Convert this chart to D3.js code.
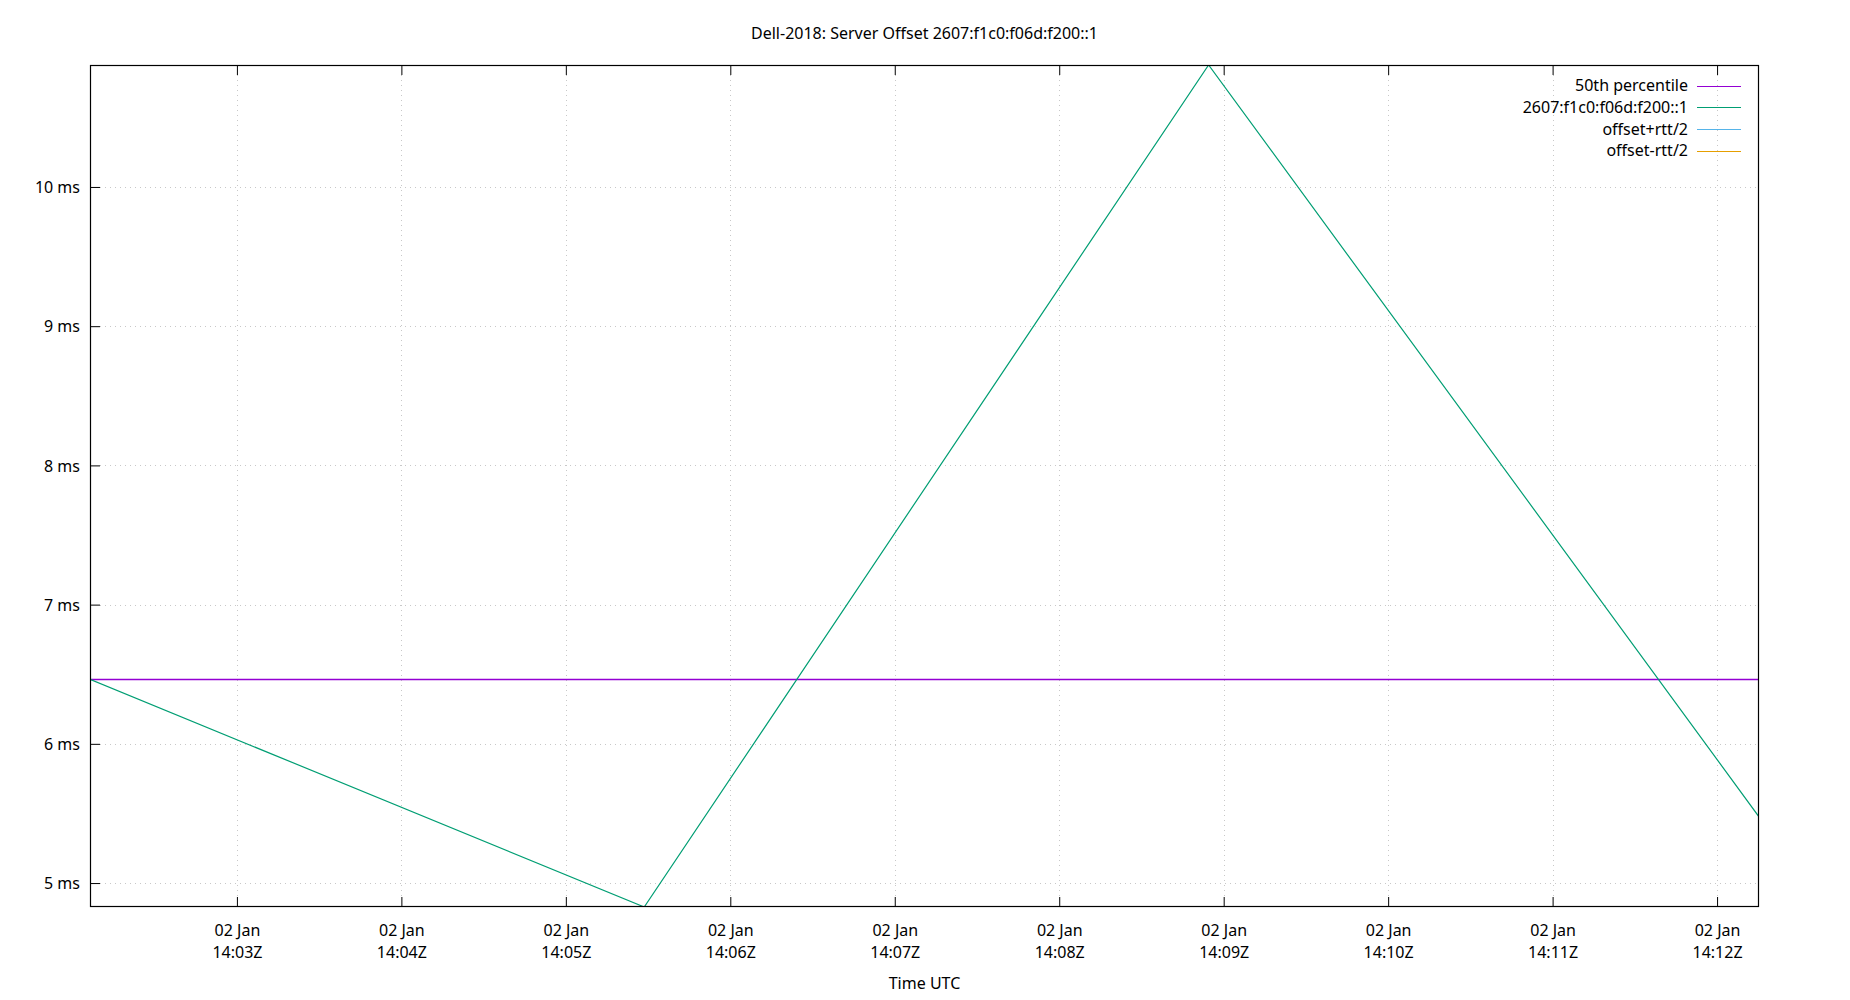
<!DOCTYPE html>
<html>
<head>
<meta charset="utf-8">
<script src="https://cdn.jsdelivr.net/npm/d3@7"></script>
<style>
html,body{margin:0;padding:0;background:#fff;}
text{font-family:"Noto Sans","Open Sans",sans-serif;font-size:16px;fill:#000;}
</style>
</head>
<body>
<svg id="chart" width="1850" height="1000"></svg>
<script>
const titleText = "Dell-2018: Server Offset 2607:f1c0:f06d:f200::1";
const xAxisLabel = "Time UTC";
const sampleTimes = ["2024-01-02T14:02:06.4Z","2024-01-02T14:05:28.6Z","2024-01-02T14:08:54.5Z","2024-01-02T14:12:15.3Z"];
const offsetValues = [6.463, 4.828, 10.876, 5.476];
const medianValue = 6.463;
const xTickTimes = ["2024-01-02T14:03:00Z","2024-01-02T14:04:00Z","2024-01-02T14:05:00Z","2024-01-02T14:06:00Z","2024-01-02T14:07:00Z","2024-01-02T14:08:00Z","2024-01-02T14:09:00Z","2024-01-02T14:10:00Z","2024-01-02T14:11:00Z","2024-01-02T14:12:00Z"];
const yTickValues = [5, 6, 7, 8, 9, 10];
const legendLabels = ["50th percentile", "2607:f1c0:f06d:f200::1", "offset+rtt/2", "offset-rtt/2"];
const legendColors = ["#9400d3", "#009e73", "#56b4e9", "#e69f00"];

const svg = d3.select("#chart");
const m = {left: 90, right: 1759, top: 65, bottom: 907};

const times = sampleTimes.map(s => new Date(s));
const data = times.map((t, i) => ({t, v: offsetValues[i]}));

const x = d3.scaleUtc().domain(d3.extent(times)).range([m.left, m.right]);
const y = d3.scaleLinear().domain(d3.extent(offsetValues)).range([m.bottom, m.top]);

const xTicks = xTickTimes.map(s => new Date(s));

// grid
const grid = svg.append("g").attr("stroke", "#c8c8c8").attr("stroke-width", 1).attr("stroke-dasharray", "1,4");
xTicks.forEach(t => {
  const px = Math.round(x(t)) + 0.5;
  grid.append("line").attr("x1", px).attr("x2", px).attr("y1", m.top + 10).attr("y2", m.bottom - 10);
});
yTickValues.forEach(v => {
  const py = Math.round(y(v)) + 0.5;
  grid.append("line").attr("x1", m.left + 10).attr("x2", m.right).attr("y1", py).attr("y2", py);
});

// axes (inward ticks)
const fmtDay = d3.utcFormat("%d %b");
const fmtTime = d3.utcFormat("%H:%MZ");
const xAxisBottom = d3.axisBottom(x).tickValues(xTicks).tickSizeInner(-10).tickSizeOuter(0).tickFormat(() => "");
const gxb = svg.append("g").attr("transform", `translate(0,${m.bottom})`).call(xAxisBottom);
gxb.select(".domain").remove();
gxb.selectAll(".tick line").attr("stroke", "#000");
gxb.selectAll(".tick").each(function(d) {
  const t = d3.select(this).append("text").attr("text-anchor", "middle").attr("fill", "#000");
  t.append("tspan").attr("x", 0).attr("y", 29).text(fmtDay(d));
  t.append("tspan").attr("x", 0).attr("y", 51).text(fmtTime(d));
});

const xAxisTop = d3.axisTop(x).tickValues(xTicks).tickSizeInner(-10).tickSizeOuter(0).tickFormat(() => "");
const gxt = svg.append("g").attr("transform", `translate(0,${m.top})`).call(xAxisTop);
gxt.select(".domain").remove();
gxt.selectAll(".tick line").attr("stroke", "#000");

const yAxis = d3.axisLeft(y).tickValues(yTickValues).tickSizeInner(-10).tickSizeOuter(0).tickPadding(10).tickFormat(v => `${v} ms`);
const gy = svg.append("g").attr("transform", `translate(${m.left},0)`).call(yAxis);
gy.select(".domain").remove();
gy.selectAll(".tick line").attr("stroke", "#000");
gy.selectAll(".tick text").attr("font-size", "16px").attr("font-family", "Noto Sans").attr("fill", "#000").attr("dy", "0.35em");
gxb.selectAll("text").attr("font-size", "16px").attr("font-family", "Noto Sans");

// clip
svg.append("clipPath").attr("id", "clip").append("rect")
  .attr("x", m.left).attr("y", m.top).attr("width", m.right - m.left).attr("height", m.bottom - m.top);

const plot = svg.append("g").attr("clip-path", "url(#clip)");
plot.append("line")
  .attr("x1", m.left).attr("x2", m.right)
  .attr("y1", y(medianValue)).attr("y2", y(medianValue))
  .attr("stroke", legendColors[0]).attr("stroke-width", 1.5);

const line = d3.line().x(d => x(d.t)).y(d => y(d.v));
plot.append("path").datum(data).attr("d", line)
  .attr("fill", "none").attr("stroke", legendColors[1]).attr("stroke-width", 1.2);

// border
svg.append("rect").attr("x", m.left + 0.5).attr("y", m.top + 0.5)
  .attr("width", m.right - m.left - 1).attr("height", m.bottom - m.top - 1)
  .attr("fill", "none").attr("stroke", "#000").attr("stroke-width", 1.2);

// title
svg.append("text").attr("x", (m.left + m.right) / 2).attr("y", 39)
  .attr("text-anchor", "middle").text(titleText);
svg.append("text").attr("x", (m.left + m.right) / 2).attr("y", 989)
  .attr("text-anchor", "middle").text(xAxisLabel);

// legend
const lg = svg.append("g");
legendLabels.forEach((lab, i) => {
  const yy = 85.5 + i * 21.7;
  lg.append("text").attr("x", 1688).attr("y", yy).attr("dy", "0.35em").attr("text-anchor", "end").text(lab);
  lg.append("line").attr("x1", 1697).attr("x2", 1741).attr("y1", Math.round(yy) + 0.5).attr("y2", Math.round(yy) + 0.5)
    .attr("stroke", legendColors[i]).attr("stroke-width", 1.2);
});
</script>
</body>
</html>
